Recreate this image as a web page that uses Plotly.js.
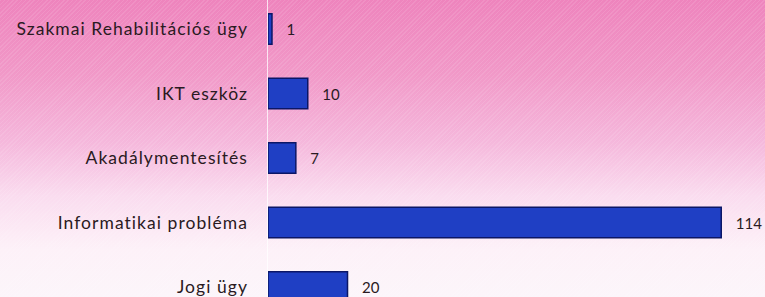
<!DOCTYPE html>
<html>
<head>
<meta charset="utf-8">
<script src="https://cdn.plot.ly/plotly-3.0.1.min.js"></script>
<style>
  html, body { margin: 0; padding: 0; }
  #wrap {
    width: 765px; height: 297px; position: relative;
    background:
      repeating-linear-gradient(135deg, rgba(255,255,255,0.10) 0px, rgba(255,255,255,0.10) 1px, rgba(0,0,0,0) 1px, rgba(0,0,0,0) 3px),
      linear-gradient(180deg, #ee84bd 0%, #f199c8 25%, #f5b8dc 48%, #fadcef 66%, #fdf1f8 84%, #fcf5fa 100%);
  }
  #chart { width: 765px; height: 297px; }
  #chart .ytick text { letter-spacing: 1.05px; }
  #chart .textpoint text { letter-spacing: 0.4px; }
</style>
</head>
<body>
<div id="wrap"><div id="chart"></div></div>
<script>
// Data (bottom to top in the chart)
const categories = ["Jogi ügy", "Informatikai probléma", "Akadálymentesítés", "IKT eszköz", "Szakmai Rehabilitációs ügy"];
const values = [20, 114, 7, 10, 1];

const trace = {
  type: "bar",
  orientation: "h",
  y: categories,
  x: values,
  width: 0.47,
  marker: {
    color: "#1f3fc4",
    line: { color: "#0b1666", width: 1.5 }
  },
  text: values.map(v => String(v)),
  texttemplate: "   %{text}",
  textposition: "outside",
  cliponaxis: false,
  textfont: { family: "Lato, 'Open Sans', sans-serif", size: 15, color: "#2a1a22" },
  hoverinfo: "none"
};

const layout = {
  width: 765,
  height: 297,
  margin: { l: 268, r: 4, t: 0, b: 0, pad: 0 },
  paper_bgcolor: "rgba(0,0,0,0)",
  plot_bgcolor: "rgba(0,0,0,0)",
  showlegend: false,
  xaxis: {
    range: [0, 124],
    showgrid: false,
    zeroline: false,
    showticklabels: false,
    showline: false,
    fixedrange: true
  },
  yaxis: {
    type: "category",
    categoryorder: "array",
    categoryarray: categories,
    range: [-0.155, 4.45],
    showgrid: false,
    zeroline: false,
    showline: true,
    linecolor: "rgba(255,255,255,0.75)",
    linewidth: 1.5,
    ticks: "",
    ticklabelstandoff: 15,
    tickfont: { family: "Lato, 'Open Sans', sans-serif", size: 17.5, color: "#2a1a22" },
    fixedrange: true
  }
};

Plotly.newPlot("chart", [trace], layout, { displayModeBar: false, staticPlot: true });
</script>
</body>
</html>
